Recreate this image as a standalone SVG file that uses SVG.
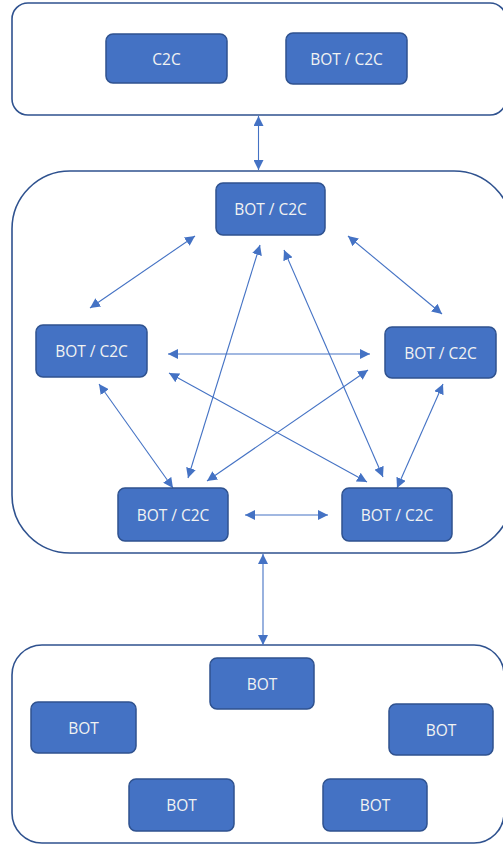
<svg xmlns="http://www.w3.org/2000/svg" width="503" height="844" viewBox="0 0 503 844">
  <style>
    .frame { fill: #ffffff; stroke: #2F528F; stroke-width: 1.6; }
    .node rect { fill: #4472C4; stroke: #2F528F; stroke-width: 1.5; }
    .node text { fill: #F2F2F2; font-family: "Open Sans", "Noto Sans", sans-serif; font-size: 15.5px; text-anchor: middle; dominant-baseline: central; }
    .link { stroke: #4472C4; stroke-width: 1.1; fill: none; marker-start: url(#head); marker-end: url(#head); }
  </style>
  <defs>
    <marker id="head" viewBox="0 0 10 10" refX="10" refY="5" markerWidth="10" markerHeight="10" markerUnits="userSpaceOnUse" orient="auto-start-reverse">
      <path d="M0,0 L10,5 L0,10 Z" fill="#4472C4"/>
    </marker>
  </defs>

  <rect width="503" height="844" fill="#ffffff"/>

  <!-- layer containers -->
  <g id="layer-top">
    <rect class="frame" x="12" y="3" width="494" height="112" rx="16"/>
  </g>
  <g id="layer-middle">
    <rect class="frame" x="12" y="171" width="500" height="382" rx="58"/>
  </g>
  <g id="layer-bottom">
    <rect class="frame" x="12" y="645" width="492" height="198" rx="30"/>
  </g>

  <!-- connectors -->
  <g id="connectors">
    <line class="link" x1="258.5" y1="116" x2="258.5" y2="170"/>
    <line class="link" x1="263" y1="554" x2="263" y2="645"/>

    <line class="link" x1="195" y1="236" x2="90" y2="308"/>
    <line class="link" x1="348" y1="236" x2="442" y2="314"/>
    <line class="link" x1="168" y1="354" x2="370" y2="354"/>
    <line class="link" x1="260" y1="245" x2="188" y2="478"/>
    <line class="link" x1="284" y1="250" x2="383" y2="477"/>
    <line class="link" x1="169" y1="373" x2="367" y2="482"/>
    <line class="link" x1="368" y1="370" x2="207" y2="481"/>
    <line class="link" x1="99" y1="384" x2="173" y2="488"/>
    <line class="link" x1="443" y1="384" x2="397" y2="488"/>
    <line class="link" x1="245" y1="515" x2="328" y2="515"/>
  </g>

  <!-- top layer nodes -->
  <g id="n-top-c2c" class="node">
    <rect x="106" y="34" width="121" height="49" rx="7"/>
    <text x="166.5" y="59">C2C</text>
  </g>
  <g id="n-top-botc2c" class="node">
    <rect x="286" y="33" width="121" height="51" rx="7"/>
    <text x="346.5" y="59">BOT / C2C</text>
  </g>

  <!-- middle layer nodes -->
  <g id="n-mid-top" class="node">
    <rect x="216" y="183" width="109" height="52" rx="7"/>
    <text x="270.5" y="209">BOT / C2C</text>
  </g>
  <g id="n-mid-left" class="node">
    <rect x="36" y="325" width="111" height="52" rx="7"/>
    <text x="91.5" y="351">BOT / C2C</text>
  </g>
  <g id="n-mid-right" class="node">
    <rect x="385" y="327" width="111" height="51" rx="7"/>
    <text x="440.5" y="353">BOT / C2C</text>
  </g>
  <g id="n-mid-bl" class="node">
    <rect x="118" y="488" width="110" height="53" rx="7"/>
    <text x="173" y="515">BOT / C2C</text>
  </g>
  <g id="n-mid-br" class="node">
    <rect x="342" y="488" width="110" height="53" rx="7"/>
    <text x="397" y="515">BOT / C2C</text>
  </g>

  <!-- bottom layer nodes -->
  <g id="n-bot-top" class="node">
    <rect x="210" y="658" width="104" height="51" rx="7"/>
    <text x="262" y="684">BOT</text>
  </g>
  <g id="n-bot-left" class="node">
    <rect x="31" y="702" width="105" height="51" rx="7"/>
    <text x="83.5" y="728">BOT</text>
  </g>
  <g id="n-bot-right" class="node">
    <rect x="389" y="704" width="104" height="51" rx="7"/>
    <text x="441" y="730">BOT</text>
  </g>
  <g id="n-bot-bl" class="node">
    <rect x="129" y="779" width="105" height="52" rx="7"/>
    <text x="181.5" y="805">BOT</text>
  </g>
  <g id="n-bot-br" class="node">
    <rect x="323" y="779" width="104" height="52" rx="7"/>
    <text x="375" y="805">BOT</text>
  </g>
</svg>
